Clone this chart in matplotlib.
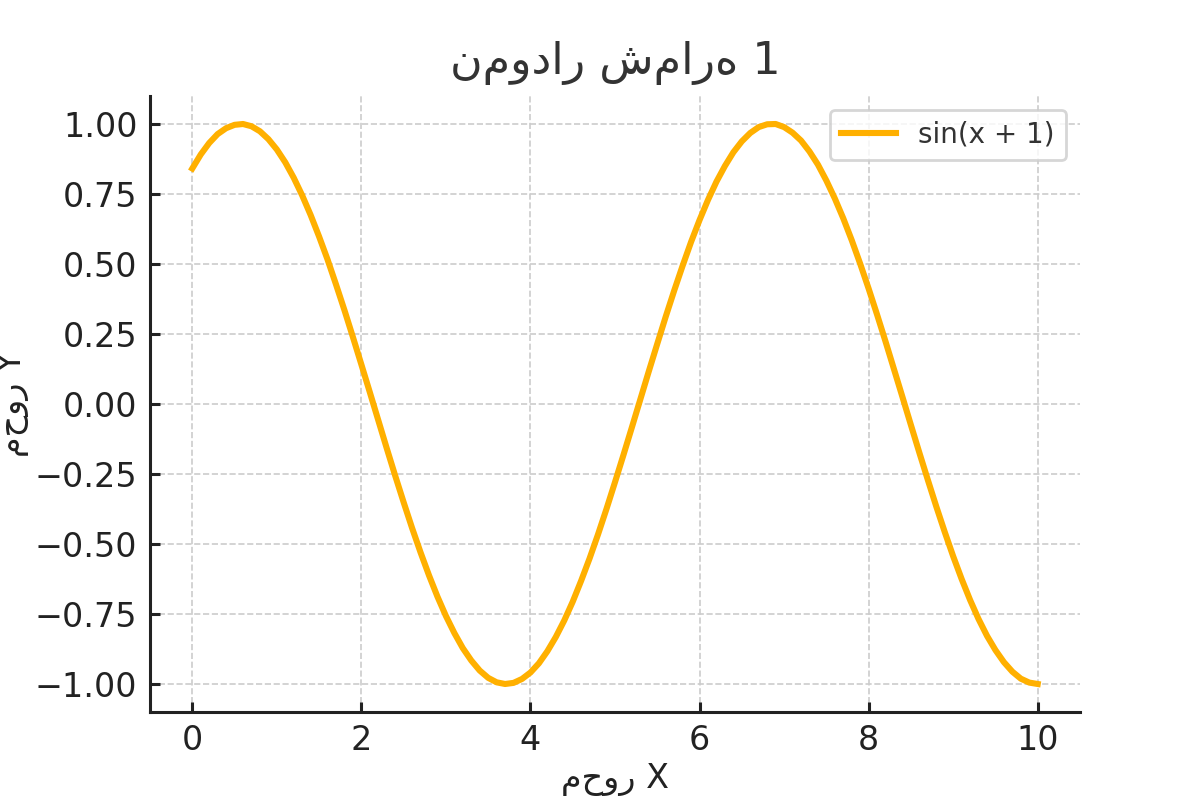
import numpy as np
import matplotlib.pyplot as plt

# values (step 0.1)
x = [round(0.1 * i, 1) for i in range(101)]
y = [0.841, 0.891, 0.932, 0.964, 0.985, 0.997, 1.000, 0.992, 0.974, 0.946,
     0.909, 0.863, 0.808, 0.745, 0.675, 0.598, 0.516, 0.427, 0.335, 0.239,
     0.141, 0.042, -0.058, -0.158, -0.256, -0.351, -0.443, -0.530, -0.612, -0.688,
     -0.757, -0.818, -0.872, -0.916, -0.952, -0.978, -0.994, -1.000, -0.996, -0.982,
     -0.959, -0.926, -0.883, -0.832, -0.773, -0.706, -0.631, -0.551, -0.465, -0.374,
     -0.279, -0.182, -0.083, 0.017, 0.117, 0.215, 0.312, 0.405, 0.494, 0.579,
     0.657, 0.729, 0.794, 0.850, 0.899, 0.938, 0.968, 0.989, 0.999, 1.000,
     0.989, 0.969, 0.941, 0.902, 0.855, 0.798, 0.734, 0.663, 0.585, 0.501,
     0.412, 0.319, 0.223, 0.124, 0.025, -0.075, -0.174, -0.271, -0.366, -0.457,
     -0.544, -0.625, -0.700, -0.768, -0.828, -0.879, -0.922, -0.956, -0.981, -0.995,
     -1.000]

xticks = [0, 2, 4, 6, 8, 10]
yticks = [-1.0, -0.75, -0.5, -0.25, 0.0, 0.25, 0.5, 0.75, 1.0]

title = "نمودار شماره 1"
xlabel = "محور X"
ylabel = "محور Y"
legend_label = "sin(x + 1)"

plt.rcParams['font.family'] = ['DejaVu Sans']

fig, ax = plt.subplots(figsize=(6, 4), dpi=200)
fig.patch.set_facecolor('white')

ax.plot(x, y, color='#FFB000', lw=2.2, label=legend_label)

ax.set_xticks(xticks)
ax.set_yticks(yticks)
ax.set_yticklabels([f"{v:.2f}".replace('-', '\u2212') for v in yticks])

ax.set_title(title, fontsize=16, color='#333333', pad=8)
ax.set_xlabel(xlabel, fontsize=12, color='#222222', labelpad=2)
ax.set_ylabel(ylabel, fontsize=12, color='#222222', labelpad=2)

ax.tick_params(axis='both', labelsize=12, colors='#222222', direction='in',
               length=3.5, width=1.1, pad=4.5)
ax.grid(True, ls='--', lw=0.6, color='#cccccc')

for side in ['top', 'right']:
    ax.spines[side].set_visible(False)
for side in ['left', 'bottom']:
    ax.spines[side].set_linewidth(1.1)
    ax.spines[side].set_color('#222222')

leg = ax.legend(loc='upper right', fontsize=10)
for t in leg.get_texts():
    t.set_color('#333333')

fig.savefig('out.png', dpi=200)
